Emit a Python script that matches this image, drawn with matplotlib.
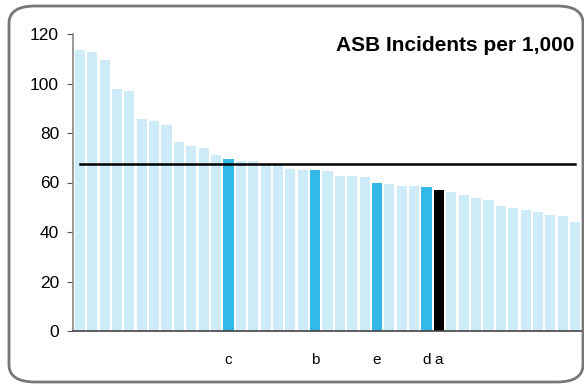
import matplotlib
matplotlib.use("Agg")
import matplotlib.pyplot as plt
from matplotlib.patches import FancyBboxPatch

plt.rcParams['font.family'] = ['Liberation Sans', 'DejaVu Sans']

# ASB incidents per 1,000, sorted descending
values = [113.5, 112.7, 109.5, 97.8, 97.0, 85.7, 84.8, 83.2, 76.4, 74.7,
          73.9, 71.1, 69.5, 68.7, 68.7, 67.3, 67.2, 65.5, 65.0, 65.0,
          64.6, 62.6, 62.6, 62.2, 59.8, 59.4, 58.6, 58.6, 58.2, 57.0,
          56.2, 55.0, 53.7, 52.9, 50.5, 49.7, 48.9, 48.1, 46.9, 46.5, 44.0]
highlight_idx = [12, 19, 24, 28]
highlight_lbl = ['c', 'b', 'e', 'd']
own_idx = 29
own_lbl = 'a'
average = 67.5

light = '#cdecf8'
dark = '#33b9e8'

colors = [light] * len(values)
for i in highlight_idx:
    colors[i] = dark
colors[own_idx] = 'black'

fig = plt.figure(figsize=(5.84, 3.84), dpi=100)
ax = fig.add_axes([73 / 584, 1 - 331 / 384, 509 / 584, 297 / 384])

x = list(range(len(values)))
ax.bar(x, values, width=0.82, color=colors, zorder=2)
ax.plot([0, len(values) - 1], [average, average], color='black', lw=1.8, zorder=3)

ax.set_xlim(-0.55, len(values) - 0.45)
ax.set_ylim(0, 120)
ax.set_yticks(range(0, 121, 20))
ax.tick_params(axis='y', labelsize=12.5, length=4, color='#555555', pad=6)

ticks = highlight_idx + [own_idx]
labels = highlight_lbl + [own_lbl]
ax.set_xticks(ticks)
ax.set_xticklabels(labels, fontsize=11)
ax.tick_params(axis='x', length=0, pad=16)

for s in ['top', 'right']:
    ax.spines[s].set_visible(False)
ax.spines['left'].set_color('#888888')
ax.spines['left'].set_linewidth(1.2)
ax.spines['bottom'].set_color('#444444')
ax.spines['bottom'].set_linewidth(1.2)

ax.text(0.986, 0.992, 'ASB Incidents per 1,000', transform=ax.transAxes,
        ha='right', va='top', fontsize=15, fontweight='bold')

# rounded border around the chart
frame = FancyBboxPatch((9 / 584, 2 / 384), 574 / 584, 376 / 384,
                       boxstyle='round,pad=0,rounding_size=0.045',
                       transform=fig.transFigure, fill=False,
                       edgecolor='#777777', linewidth=2, zorder=0)
fig.patches.append(frame)

fig.savefig('out.png', dpi=100)
